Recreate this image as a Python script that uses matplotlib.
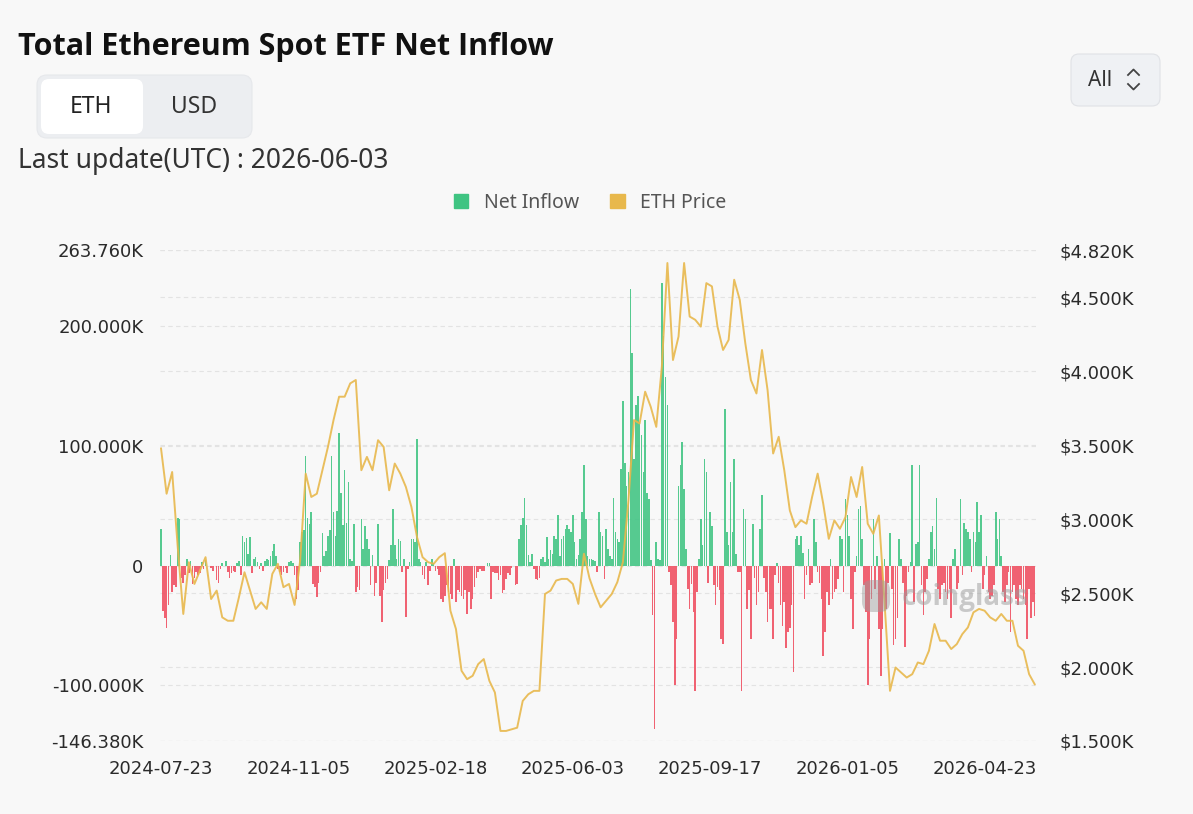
import matplotlib
matplotlib.use("Agg")
import matplotlib.pyplot as plt
from matplotlib.patches import FancyBboxPatch, Patch
from matplotlib.lines import Line2D
import numpy as np

# daily net inflow, thousand ETH, one value per trading day (2024-07-23 .. 2026-06-03)
inflow = [
    31, -38, -44, -52, -33, 9, -22, -16, -18, 40,
    39, -10, -14, -8, 6, -6, 4, -15, -10, -5,
    -8, -6, 3, -3, 5, 0, 0, -2, -4, 0,
    -12, -14, -3, 2, 0, 4, -5, -10, -6, -4,
    -5, 2, 4, -8, 25, 20, 23, 10, 24, -6,
    6, 7, 3, -3, 2, -4, 4, 6, 5, 8,
    12, 18, 8, -3, -5, -8, -5, -2, -6, 3,
    4, 2, -8, -28, -20,
    20, 28, 30, 92, 40, 35, 45, -15, -18, -26,
    -14, -5, 27, 8, 12, 25, 30, 92, 45, 25,
    46, 111, 61, 34, 80, 36, 70, 6, 4, 35,
    -22, -18, -20, 39, 14, 33, 22, 14, -16, 9,
    -25, -14, 35, -25, -47, -20, -14, -11, 5, 17,
    47, 17, 6, 22, 21, -5, 6, -43, -3, 3,
    22, 22, 20, 106, 6, 3, -8, -11, 3, -16,
    -4, 6, 2, -4, -3, -8,
    -28, -30, -25, -16, -22, -24, -28, 6, -30, -20,
    -22, -25, -28, -20, -40, -22, -36, -28, -18, -10,
    -5, -3, -4, -4, 0, 2, 2, -28, -5, -6,
    -6, -12, -8, -23, -20, -11, -6, -8, -2, 0,
    -16, -15, 22, 34, 40, 57, 34, 9, 3, 10,
    -3, -11, -12, -10, 6, 7, 3, 24, 6, 13,
    10, 25, 22, 42, 8, 22, 25, 31, 34, 31,
    28, 42, 20, 6, 9, 22, 45,
    84, 39, 8, 6, 6, 5, 4, -5, 45, 28,
    25, -11, 31, 14, 8, 6, 57, 28, 22, 20,
    81, 138, 86, 67, 78, 231, 178, 89, 134, 142,
    120, 109, 78, 122, 61, 56, 5, -41, -136, 20,
    6, 5, 236, 192, 158, 134, -5, -16, -47, -100,
    -61, 67, 84, 103, 64, 14, -19, -36, -15, -39,
    -105, -22, 6, 39, 17, 89, 78, -14, 45, 33,
    -16, -33, -18, -20, -61, -65, 131, 28, 17, 70,
    28, 89,
    10, -5, -5, -105, 47, 39, -36, -20, -61, 35,
    -10, -33, -22, 31, 59, -10, -22, -47, -36, -36,
    -61, -8, 2, -14, -33, -50, -30, -69, -55, -52,
    -33, -89, 22, 25, 17, 25, 11, -28, -8, 14,
    -16, -14, 39, 20, -5, -14, -28, -75, -55, -22,
    -33, 6, -28, -22, -19, -11, 25, 22, -22, 56,
    42, 25, -28, -53, -5, 8, 47, 50, 22, -16,
    -39, -100, -61, -28, 39, -19, 8, -53,
    -92, -53, 6, -36, -14, 27, -19, -66, -61, -44,
    22, 6, -14, -68, -25, -5, 3, 84, -30, 18,
    20, 84, -16, -41, -22, -11, 6, 28, 33, 14,
    57, -19, -28, -16, -14, -22, -28, -19, -44, 6,
    14, -19, -14, 56, -8, 36, 31, 28, 22, -5,
    28, 20, 53, 28, 42, -19, -8, 8, -22, -28,
    -25, -16, 45, 22, 39, 8, -22, -30, -16, -5,
    -55, -22, -16, -28, -33, -16, -19, -28, -33, -61,
    -19, -44, -30, -42,
]

# ETH price in USD, read every third trading day
eth_price = [
    3478, 3172, 3319, 2811, 2359, 2709, 2562, 2653, 2743, 2460,
    2517, 2336, 2313, 2313, 2472, 2641, 2517, 2393, 2438, 2393,
    2630, 2698, 2540, 2562, 2420, 2720, 3308, 3150, 3172, 3331,
    3489, 3670, 3828, 3828, 3918, 3941, 3331, 3421, 3331, 3534,
    3489, 3195, 3376, 3308, 3218, 3082, 2879, 2743, 2709, 2698,
    2743, 2770, 2381, 2257, 1975, 1918, 1941, 2020, 2054, 1907,
    1828, 1568, 1568, 1579, 1590, 1771, 1816, 1839, 1839, 2494,
    2517, 2585, 2596, 2596, 2562, 2427, 2766, 2600, 2494, 2404,
    2449, 2494, 2574, 2709, 3127, 3670, 3647, 3862, 3760, 3624,
    4031, 4732, 4076, 4235, 4732, 4370, 4348, 4302, 4596, 4574,
    4302, 4144, 4212, 4619, 4483, 4189, 3941, 3850, 4144, 3873,
    3444, 3557, 3331, 3059, 2946, 2992, 2969, 3150, 3308, 3105,
    2867, 2992, 2935, 3014, 3285, 3150, 3353, 2969, 2901, 3025,
    2449, 1839, 1997, 1963, 1929, 1952, 2031, 2020, 2110, 2291,
    2178, 2178, 2122, 2155, 2223, 2268, 2370, 2393, 2381, 2336,
    2313, 2359, 2313, 2313, 2144, 2110, 1952, 1884,
]

date_labels = ["2024-07-23", "2024-11-05", "2025-02-18", "2025-06-03",
               "2025-09-17", "2026-01-05", "2026-04-23"]
label_step = 74

left_ticks = [-146.38, -100, 0, 100, 200, 263.76]
left_labels = ["-146.380K", "-100.000K", "0", "100.000K", "200.000K", "263.760K"]
right_ticks = [1500, 2000, 2500, 3000, 3500, 4000, 4500, 4820]
right_labels = ["$1.500K", "$2.000K", "$2.500K", "$3.000K", "$3.500K",
                "$4.000K", "$4.500K", "$4.820K"]

GREEN = "#3fc482"
RED = "#ef4d5f"
GOLD = "#e8b84c"
BG = "#f8f8f8"
W, H = 1193, 814

fig = plt.figure(figsize=(W / 100, H / 100), dpi=100, facecolor=BG)


def fx(x):
    return x / W


def fy(y):
    return 1 - y / H


ax = fig.add_axes([fx(160.1), fy(741), fx(875.5), 491 / H])
ax.set_facecolor(BG)

vals = np.array(inflow, dtype=float)
x = np.arange(len(vals))
colors = np.where(vals >= 0, GREEN, RED)
ax.bar(x, vals, width=0.85, color=colors, alpha=0.88, zorder=2)
ax.set_xlim(-0.5, len(vals) - 0.5)
ax.set_ylim(left_ticks[0], left_ticks[-1])

ax.set_yticks(left_ticks)
ax.set_yticklabels(left_labels)
ax.set_xticks(np.arange(len(date_labels)) * label_step)
ax.set_xticklabels(date_labels)
ax.grid(axis="y", color="#e3e3e3", linestyle=(0, (4, 3)), linewidth=0.8, zorder=0)
ax.set_axisbelow(True)
for t in right_ticks:
    f = (t - right_ticks[0]) / (right_ticks[-1] - right_ticks[0])
    ax.plot([0, 1], [f, f], transform=ax.transAxes, color="#e3e3e3",
            linestyle=(0, (4, 3)), linewidth=0.8, zorder=0)

ax2 = ax.twinx()
px = np.linspace(0, len(vals) - 1, len(eth_price))
ax2.plot(px, eth_price, color=GOLD, linewidth=1.4, alpha=0.9, zorder=3)
ax2.set_ylim(right_ticks[0], right_ticks[-1])
ax2.set_yticks(right_ticks)
ax2.set_yticklabels(right_labels)

for a in (ax, ax2):
    for s in a.spines.values():
        s.set_visible(False)
ax.tick_params(axis="y", length=0, pad=12, labelsize=13, labelcolor="#2a2a2a")
ax.tick_params(axis="x", length=0, pad=14, labelsize=13, labelcolor="#2a2a2a")
ax2.tick_params(axis="y", length=0, pad=17, labelsize=13, labelcolor="#2a2a2a")

# header
fig.text(fx(18), fy(47), "Total Ethereum Spot ETF Net Inflow", fontsize=22,
         fontweight="bold", family=["Open Sans", "DejaVu Sans"], color="#111111",
         va="center")
fig.text(fx(18), fy(161), "Last update(UTC) : 2026-06-03", fontsize=19,
         family="Noto Sans", color="#333333", va="center")

tr = fig.dpi_scale_trans
fig.patches.append(FancyBboxPatch((37 / 100, (H - 138) / 100), 215 / 100, 63 / 100,
                                  boxstyle="round,pad=0,rounding_size=0.1",
                                  fc="#eceef1", ec="#e6e8eb", lw=0.8, transform=tr))
fig.patches.append(FancyBboxPatch((41 / 100, (H - 134) / 100), 102 / 100, 55 / 100,
                                  boxstyle="round,pad=0,rounding_size=0.08",
                                  fc="white", ec="none", transform=tr))
fig.text(fx(91), fy(107), "ETH", fontsize=16.5, family="Noto Sans", color="#222222",
         ha="center", va="center")
fig.text(fx(194), fy(107), "USD", fontsize=16.5, family="Noto Sans", color="#333333",
         ha="center", va="center")

fig.patches.append(FancyBboxPatch((1071 / 100, (H - 106) / 100), 89 / 100, 52 / 100,
                                  boxstyle="round,pad=0,rounding_size=0.08",
                                  fc="#eff1f4", ec="#e0e2e6", lw=0.8, transform=tr))
fig.text(fx(1100), fy(80), "All", fontsize=15, family="Noto Sans", color="#333333",
         ha="center", va="center")
fig.lines.append(Line2D([fx(1128), fx(1133.5), fx(1139)], [fy(75), fy(69.5), fy(75)],
                        color="#444444", lw=1.3, transform=fig.transFigure))
fig.lines.append(Line2D([fx(1128), fx(1133.5), fx(1139)], [fy(84), fy(89.5), fy(84)],
                        color="#444444", lw=1.3, transform=fig.transFigure))

# legend
handles = [Patch(color=GREEN, label="Net Inflow"), Patch(color=GOLD, label="ETH Price")]
fig.legend(handles=handles, loc="center", bbox_to_anchor=(fx(590), fy(203)), ncol=2,
           frameon=False, prop={"family": "Noto Sans", "size": 14},
           handlelength=0.75, handleheight=0.75, handletextpad=0.8,
           columnspacing=1.6, labelcolor="#555555")

# watermark
fig.patches.append(FancyBboxPatch((862 / 100, (H - 612) / 100), 28 / 100, 32 / 100,
                                  boxstyle="round,pad=0,rounding_size=0.1",
                                  fc="#9a9a9a", ec="none", alpha=0.45, transform=tr))
fig.text(fx(965), fy(598), "coinglass", fontsize=20, fontweight="bold",
         family=["Open Sans", "DejaVu Sans"], color="#9a9a9a", alpha=0.5,
         ha="center", va="center")

fig.savefig("out.png", dpi=100, facecolor=BG)
